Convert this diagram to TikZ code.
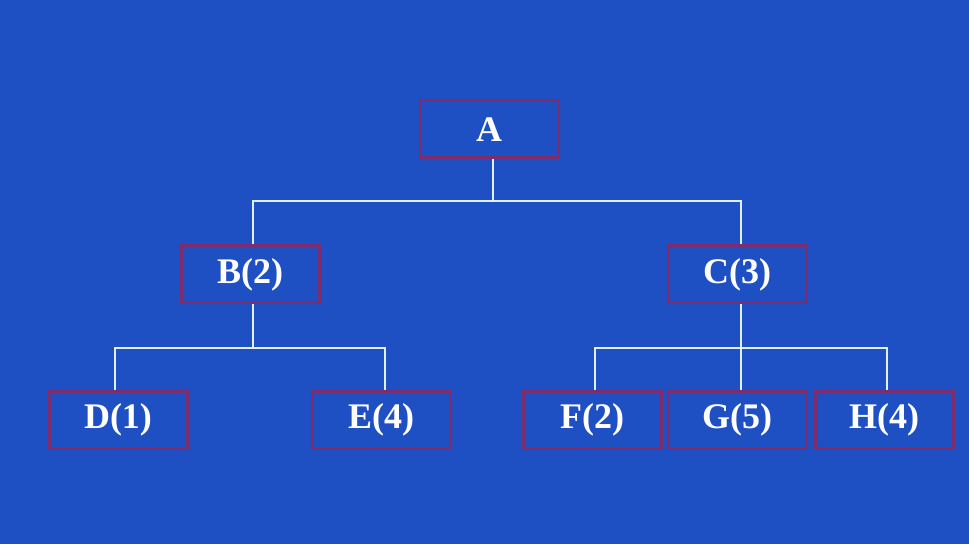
\documentclass[tikz,border=0pt]{standalone}
\usepackage{fontspec}
\setmainfont{Liberation Serif}
\definecolor{bg}{RGB}{30,80,196}
\definecolor{boxline}{RGB}{125,45,110}
\definecolor{connline}{RGB}{225,240,255}
\begin{document}
\begin{tikzpicture}[x=1pt,y=1pt,
  tbox/.style={draw=boxline,line width=3pt,minimum width=138pt,minimum height=57pt,inner sep=0pt,
    text=white,font=\fontsize{36}{40}\selectfont\bfseries},
  conn/.style={draw=connline,line width=2pt}]
\fill[bg] (0,0) rectangle (969,544);
\useasboundingbox (0,0) rectangle (969,544);
\node[tbox,minimum width=138pt] (A) at (489,414.5) {\raisebox{-2pt}{A}};
\node[tbox] (B) at (250,269.5) {\raisebox{-2pt}{B(2)}};
\node[tbox] (C) at (737,269.5) {\raisebox{-2pt}{C(3)}};
\node[tbox] (D) at (118,124) {\raisebox{-2pt}{D(1)}};
\node[tbox] (E) at (381,124) {\raisebox{-2pt}{E(4)}};
\node[tbox] (F) at (592,124) {\raisebox{-2pt}{F(2)}};
\node[tbox] (G) at (737,124) {\raisebox{-2pt}{G(5)}};
\node[tbox] (H) at (884,124) {\raisebox{-2pt}{H(4)}};
\coordinate (ja) at (493,343);
\coordinate (jb) at (253,196);
\coordinate (jc) at (741,196);
\draw[conn] ([xshift=4pt]A.south) -- (ja);
\draw[conn] ([xshift=3pt]B.north) |- (ja) -| ([xshift=4pt]C.north);
\draw[conn] ([xshift=3pt]B.south) -- (jb);
\draw[conn] ([xshift=-3pt]D.north) |- (jb) -| ([xshift=4pt]E.north);
\draw[conn] ([xshift=4pt]C.south) -- (jc);
\draw[conn] ([xshift=3pt]F.north) |- (jc) -| ([xshift=3pt]H.north);
\draw[conn] ([xshift=4pt]G.north) -- (jc);
\end{tikzpicture}
\end{document}
